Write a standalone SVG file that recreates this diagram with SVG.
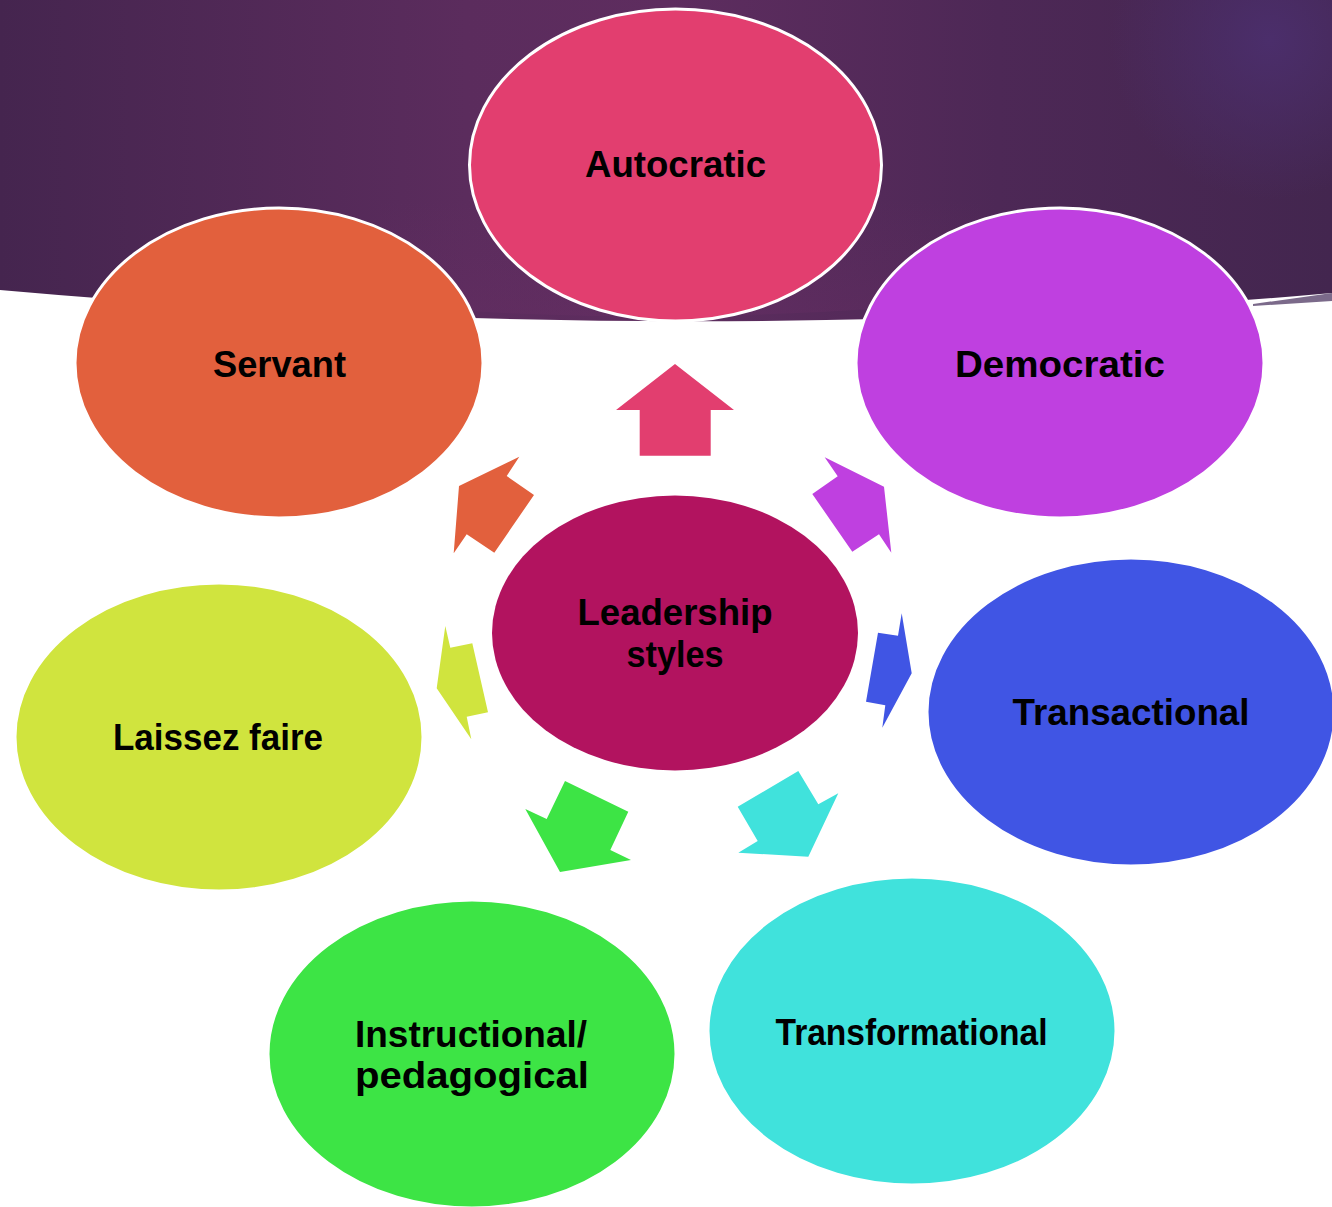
<svg xmlns="http://www.w3.org/2000/svg" width="1332" height="1207" viewBox="0 0 1332 1207">
<defs>
<linearGradient id="band" x1="0" y1="0" x2="1" y2="0">
<stop offset="0" stop-color="#45254F"/>
<stop offset="0.35" stop-color="#5B2C5D"/>
<stop offset="0.5" stop-color="#5E2D5F"/>
<stop offset="0.75" stop-color="#4D2856"/>
<stop offset="1" stop-color="#43264F"/>
</linearGradient>
<radialGradient id="glow" cx="1270" cy="40" r="160" gradientUnits="userSpaceOnUse">
<stop offset="0" stop-color="#4B2E6B" stop-opacity="1"/>
<stop offset="1" stop-color="#4B2E6B" stop-opacity="0"/>
</radialGradient>
<linearGradient id="shade" x1="0" y1="0" x2="0" y2="1">
<stop offset="0" stop-color="#6A2F66" stop-opacity="0"/>
<stop offset="1" stop-color="#6A2F66" stop-opacity="0.6"/>
</linearGradient>
</defs>
<style>
.node { stroke: #FFFFFF; stroke-width: 3; }
.lbl { font-family: "Liberation Sans", Arial, sans-serif; font-weight: bold; font-size: 36px; fill: #000000; text-anchor: middle; }
</style>
<rect x="0" y="0" width="1332" height="1207" fill="#FFFFFF"/>
<g id="background">
<polygon points="1253,304 1332,293 1332,301 1253,306" fill="#7B6A8A"/>
<path d="M0,0 H1332 V293 Q680,351 0,290 Z" fill="url(#band)"/>
<path d="M0,0 H1332 V293 Q680,351 0,290 Z" fill="url(#glow)"/>
<path d="M380,200 H980 V300 Q680,330 380,305 Z" fill="url(#shade)" opacity="0.5"/>
</g>
<g id="connectors">
<polygon id="arrow-autocratic" points="675,364 734,410 710.7,410 710.7,455.7 639.7,455.7 639.7,410 616,410" fill="#E23E6F"/>
<polygon id="arrow-servant" points="459,486 519.3,456.7 506.7,476 534,495 494.3,552.7 466.7,534.3 453.7,553.3" fill="#E2603D"/>
<polygon id="arrow-democratic" points="824.7,457.3 884,486.7 891.3,552.7 879,534.3 852.3,551.7 812.3,494 837.7,476.3" fill="#BF40E0"/>
<polygon id="arrow-transactional" points="901.7,613.3 911.7,673.3 882.3,727.7 885.3,705.3 866,701.7 878,632.7 898,635.7" fill="#4055E4"/>
<polygon id="arrow-transformational" points="798.3,771 818.3,804.3 838.3,793.3 808.3,856.7 738.3,852.7 757.7,841 737.7,806.7" fill="#40E2DC"/>
<polygon id="arrow-instructional" points="565,781 628.3,811.7 610.3,850 631,860 560,872 525.3,809 546.7,819" fill="#3DE445"/>
<polygon id="arrow-laissez" points="445.3,626 450.3,647.7 472.3,643.3 488,712.3 466.7,716.7 471.3,739.3 436.7,688.3" fill="#D0E43E"/>
</g>
<g id="node-center">
<ellipse cx="675" cy="633" rx="183" ry="137.5" fill="#B2135F"/>
<text class="lbl" x="675" y="625" textLength="195" lengthAdjust="spacingAndGlyphs">Leadership</text>
<text class="lbl" x="675" y="667" textLength="97" lengthAdjust="spacingAndGlyphs">styles</text>
</g>
<g id="node-autocratic">
<ellipse class="node" cx="675.5" cy="165" rx="206" ry="156" fill="#E23E6F"/>
<text class="lbl" x="675.5" y="177" textLength="181" lengthAdjust="spacingAndGlyphs">Autocratic</text>
</g>
<g id="node-servant">
<ellipse class="node" cx="279" cy="363" rx="204" ry="155" fill="#E2603D"/>
<text class="lbl" x="279.5" y="377" textLength="133" lengthAdjust="spacingAndGlyphs">Servant</text>
</g>
<g id="node-democratic">
<ellipse class="node" cx="1060" cy="363" rx="204" ry="155" fill="#BF40E0"/>
<text class="lbl" x="1060" y="377" textLength="210" lengthAdjust="spacingAndGlyphs">Democratic</text>
</g>
<g id="node-transactional">
<ellipse class="node" cx="1131" cy="712" rx="204" ry="154" fill="#4055E4"/>
<text class="lbl" x="1131" y="725" textLength="237" lengthAdjust="spacingAndGlyphs">Transactional</text>
</g>
<g id="node-transformational">
<ellipse class="node" cx="912" cy="1031" rx="204" ry="154" fill="#40E2DC"/>
<text class="lbl" x="911.5" y="1045" textLength="272" lengthAdjust="spacingAndGlyphs">Transformational</text>
</g>
<g id="node-instructional">
<ellipse class="node" cx="472" cy="1054" rx="204" ry="154" fill="#3DE445"/>
<text class="lbl" x="471" y="1047" textLength="232" lengthAdjust="spacingAndGlyphs">Instructional/</text>
<text class="lbl" x="472" y="1088" textLength="234" lengthAdjust="spacingAndGlyphs">pedagogical</text>
</g>
<g id="node-laissez">
<ellipse class="node" cx="219" cy="737" rx="204" ry="154" fill="#D0E43E"/>
<text class="lbl" x="218" y="750" textLength="210" lengthAdjust="spacingAndGlyphs">Laissez faire</text>
</g>
</svg>
